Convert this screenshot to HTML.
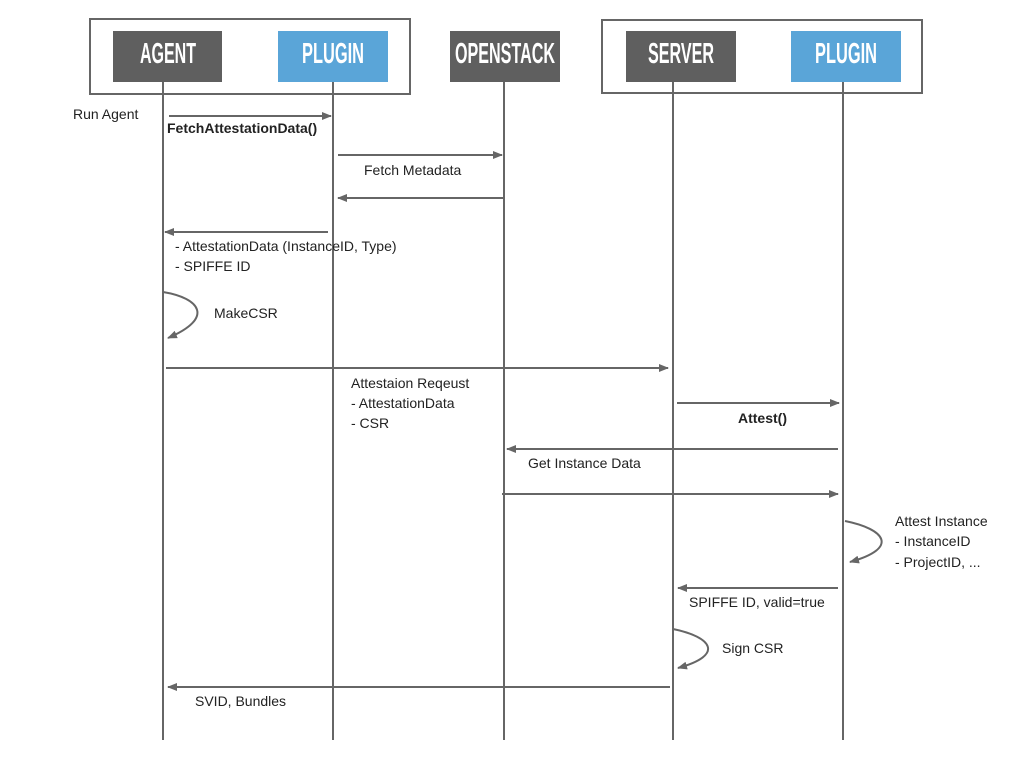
<!DOCTYPE html>
<html><head><meta charset="utf-8"><style>
html,body{margin:0;padding:0;background:#fff;}
svg{display:block;}
text{font-family:"Liberation Sans",sans-serif;font-size:14px;fill:#222;}
.h{font-family:"Liberation Sans",sans-serif;font-weight:bold;font-size:29px;fill:#fff;}
.b{font-weight:bold;}
</style></head><body>
<svg width="1024" height="768" viewBox="0 0 1024 768">
<defs>
<marker id="a" markerWidth="10" markerHeight="8" refX="9" refY="4" orient="auto" markerUnits="userSpaceOnUse">
<path d="M0,0 L10,4 L0,8 z" fill="#666"/></marker>
</defs>
<g fill="none" stroke="#666" stroke-width="2">
<rect x="90" y="19" width="320" height="75"/>
<rect x="602" y="20" width="320" height="73"/>
</g>
<rect x="113" y="31" width="109" height="51" fill="#5f5f5f"/>
<rect x="278" y="31" width="110" height="51" fill="#5aa5d8"/>
<rect x="450" y="31" width="110" height="51" fill="#5f5f5f"/>
<rect x="626" y="31" width="110" height="51" fill="#5f5f5f"/>
<rect x="791" y="31" width="110" height="51" fill="#5aa5d8"/>
<text class="h" x="140" y="63" textLength="56" lengthAdjust="spacingAndGlyphs">AGENT</text>
<text class="h" x="302" y="63" textLength="62" lengthAdjust="spacingAndGlyphs">PLUGIN</text>
<text class="h" x="455" y="63" textLength="100" lengthAdjust="spacingAndGlyphs">OPENSTACK</text>
<text class="h" x="648" y="63" textLength="66" lengthAdjust="spacingAndGlyphs">SERVER</text>
<text class="h" x="815" y="63" textLength="62" lengthAdjust="spacingAndGlyphs">PLUGIN</text>
<g stroke="#666" stroke-width="2" fill="none">
<line x1="163" y1="82" x2="163" y2="740"/>
<line x1="333" y1="82" x2="333" y2="740"/>
<line x1="504" y1="82" x2="504" y2="740"/>
<line x1="673" y1="82" x2="673" y2="740"/>
<line x1="843" y1="82" x2="843" y2="740"/>
</g>
<g stroke="#666" stroke-width="2" fill="none" marker-end="url(#a)">
<line x1="169" y1="116" x2="331" y2="116"/>
<line x1="338" y1="155" x2="502" y2="155"/>
<line x1="504" y1="198" x2="338" y2="198"/>
<line x1="328" y1="232" x2="165" y2="232"/>
<path d="M163,292 C200,298 215,318 168,338"/>
<line x1="166" y1="368" x2="668" y2="368"/>
<line x1="677" y1="403" x2="839" y2="403"/>
<line x1="838" y1="449" x2="507" y2="449"/>
<line x1="502" y1="494" x2="838" y2="494"/>
<path d="M845,521 C885,529 900,548 850,562"/>
<line x1="838" y1="588" x2="678" y2="588"/>
<path d="M673,629 C712,637 725,655 678,668"/>
<line x1="670" y1="687" x2="168" y2="687"/>
</g>
<text x="73" y="119">Run Agent</text>
<text class="b" x="167" y="133">FetchAttestationData()</text>
<text x="364" y="175">Fetch Metadata</text>
<text x="175" y="251">- AttestationData  (InstanceID, Type)</text>
<text x="175" y="271">- SPIFFE ID</text>
<text x="214" y="318">MakeCSR</text>
<text x="351" y="388">Attestaion Reqeust</text>
<text x="351" y="408">- AttestationData</text>
<text x="351" y="428">- CSR</text>
<text class="b" x="738" y="423">Attest()</text>
<text x="528" y="468">Get  Instance Data</text>
<text x="895" y="526">Attest Instance</text>
<text x="895" y="546">- InstanceID</text>
<text x="895" y="567">- ProjectID, ...</text>
<text x="689" y="607">SPIFFE ID, valid=true</text>
<text x="722" y="653">Sign CSR</text>
<text x="195" y="706">SVID, Bundles</text>
</svg>
</body></html>
